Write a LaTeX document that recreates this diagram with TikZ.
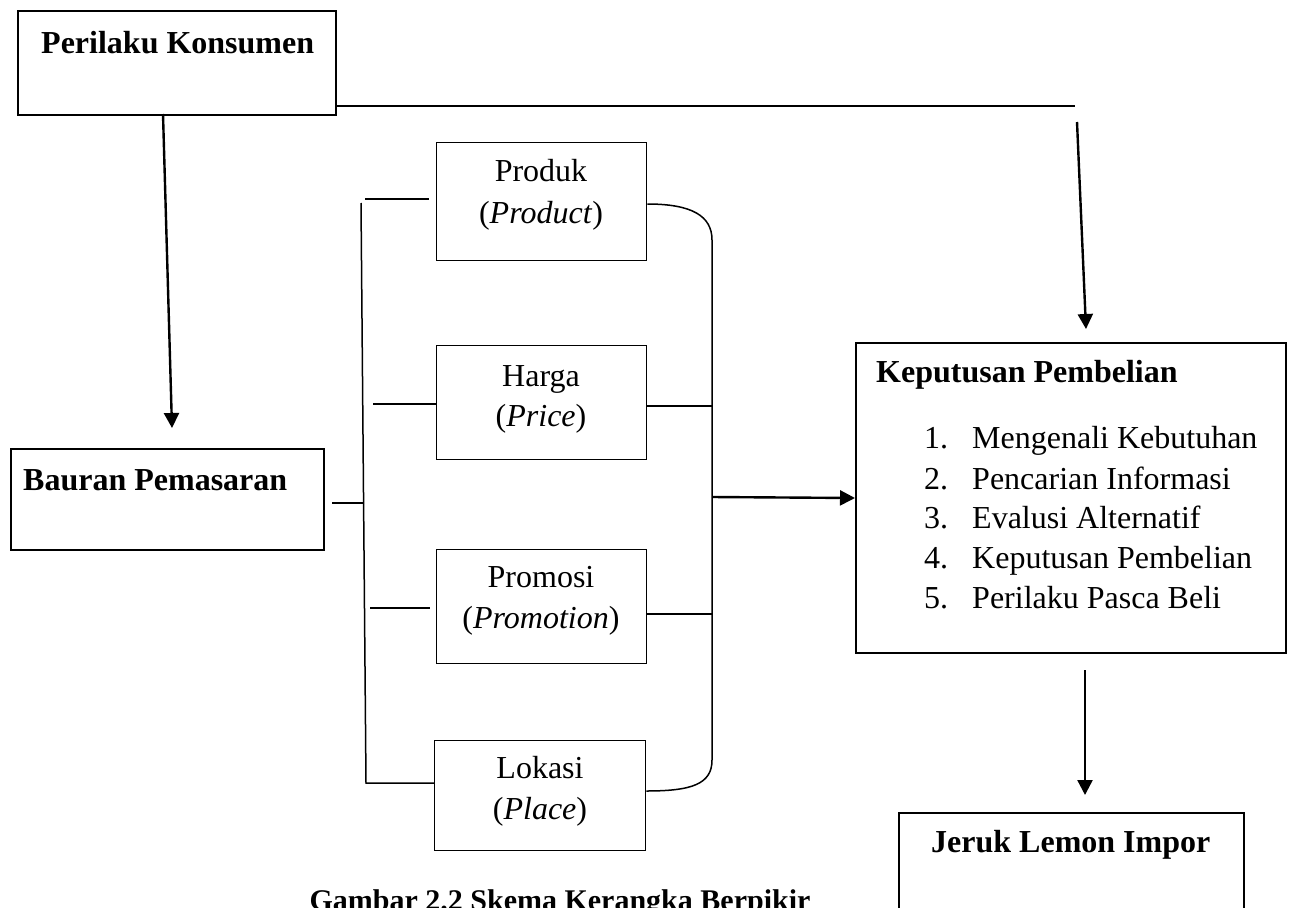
\documentclass[tikz,border=0pt]{standalone}
\usepackage{fontspec}
\setmainfont{Liberation Serif}
\usetikzlibrary{arrows.meta}
\begin{document}
\begin{tikzpicture}[x=1pt,y=-1pt,
  every node/.style={font=\fontsize{32}{40}\selectfont, inner sep=0pt},
  mainbox/.style={draw, line width=2pt, anchor=north west},
  subbox/.style={draw, line width=1.3pt, anchor=north west},
  bus/.style={line width=1.5pt},
  conn/.style={line width=2.2pt},
  arr/.style={line width=2.4pt, -{Triangle[length=15pt,width=15pt]}},
  lbl/.style={anchor=base},
  lblw/.style={anchor=base west}
]
\useasboundingbox (0,0) rectangle (1292,907);

% main boxes
\node[mainbox, minimum width=318pt, minimum height=104pt] (pk) at (17,10) {};
\node[mainbox, line width=1.6pt, minimum width=313pt, minimum height=101pt] (bp) at (10,448) {};
\node[mainbox, minimum width=430pt, minimum height=310pt] (kp) at (855,342) {};
\node[mainbox, minimum width=345pt, minimum height=130pt] (jl) at (898,812) {};

% sub boxes
\node[subbox, minimum width=210pt, minimum height=118pt] (pr) at (436,142) {};
\node[subbox, minimum width=210pt, minimum height=114pt] (hg) at (436,345) {};
\node[subbox, minimum width=210pt, minimum height=114pt] (pm) at (436,549) {};
\node[subbox, minimum width=211pt, minimum height=110pt] (lk) at (434,740) {};

% texts
\node[lblw] (pkT) at (41,53) {\bfseries Perilaku Konsumen};
\node[lblw] (bpT) at (23,490) {\bfseries Bauran Pemasaran};
\node[lblw] (kpT) at (876,382) {\bfseries Keputusan Pembelian};
\node[lblw] (jlT) at (931,852) {\bfseries Jeruk Lemon Impor};
\node[lbl, font=\fontsize{30}{36}\selectfont] (cap) at (560,910) {\bfseries Gambar 2.2 Skema Kerangka Berpikir};

\node[lbl] (prA) at (541,181) {Produk};
\node[lbl] (prB) at (541,223) {(\textit{Product})};
\node[lbl] (hgA) at (541,386) {Harga};
\node[lbl] (hgB) at (541,426) {(\textit{Price})};
\node[lbl] (pmA) at (541,587) {Promosi};
\node[lbl] (pmB) at (541,628) {(\textit{Promotion})};
\node[lbl] (lkA) at (540,778) {Lokasi};
\node[lbl] (lkB) at (540,819) {(\textit{Place})};

\node[lblw] (n1) at (924,448) {1.};
\node[lblw] (i1) at (972,448) {Mengenali Kebutuhan};
\node[lblw] (n2) at (924,489) {2.};
\node[lblw] (i2) at (972,489) {Pencarian Informasi};
\node[lblw] (n3) at (924,528) {3.};
\node[lblw] (i3) at (972,528) {Evalusi Alternatif};
\node[lblw] (n4) at (924,568) {4.};
\node[lblw] (i4) at (972,568) {Keputusan Pembelian};
\node[lblw] (n5) at (924,608) {5.};
\node[lblw] (i5) at (972,608) {Perilaku Pasca Beli};

% coordinates
\coordinate (a1s) at (163,114);
\coordinate (a1e) at (172,428);
\coordinate (t1) at (337,106);
\coordinate (t2) at (1075,106);
\coordinate (a2s) at (1077,122);
\coordinate (a2e) at (1086,329);
\coordinate (a4s) at (1085,670);
\coordinate (a4e) at (1085,795);
\coordinate (bpc) at (332,503);
\coordinate (lbT) at (361,203);
\coordinate (lbB) at (366,783);
\coordinate (lbM) at (363,503);
\coordinate (prL) at (365,199);
\coordinate (prL2) at (429,199);
\coordinate (hgL) at (373,404);
\coordinate (pmL) at (370,608);
\coordinate (pmL2) at (430,608);
\coordinate (rbT) at (712,240);
\coordinate (rbB) at (712,760);
\coordinate (rbM) at (712,497);
\coordinate (hgR) at (712,406);
\coordinate (pmR) at (712,614);

% connectors
\draw[arr] (a1s) -- (a1e);
\draw[conn] (t1) -- (t2);
\draw[arr] (a2s) -- (a2e);
\draw[arr] (a4s) -- (a4e);
\draw[arr] (rbM) -- (kp.west);

\draw[bus] (bpc) -- (lbM);
\draw[bus] (lbT) -- (lbB) -- (lbB -| lk.west);
\draw[bus] (prL) -- (prL2);
\draw[bus] (hgL) -- (hgL -| hg.west);
\draw[bus] (pmL) -- (pmL2);
\draw[bus] (hgR -| hg.east) -- (hgR);
\draw[bus] (pmR -| pm.east) -- (pmR);
\draw[bus] (pr.east |- 0,204) .. controls (692,204) and (712,216) .. (rbT)
  -- (rbB) .. controls (712,784) and (692,791) .. (lk.east |- 0,791);
\end{tikzpicture}
\end{document}
